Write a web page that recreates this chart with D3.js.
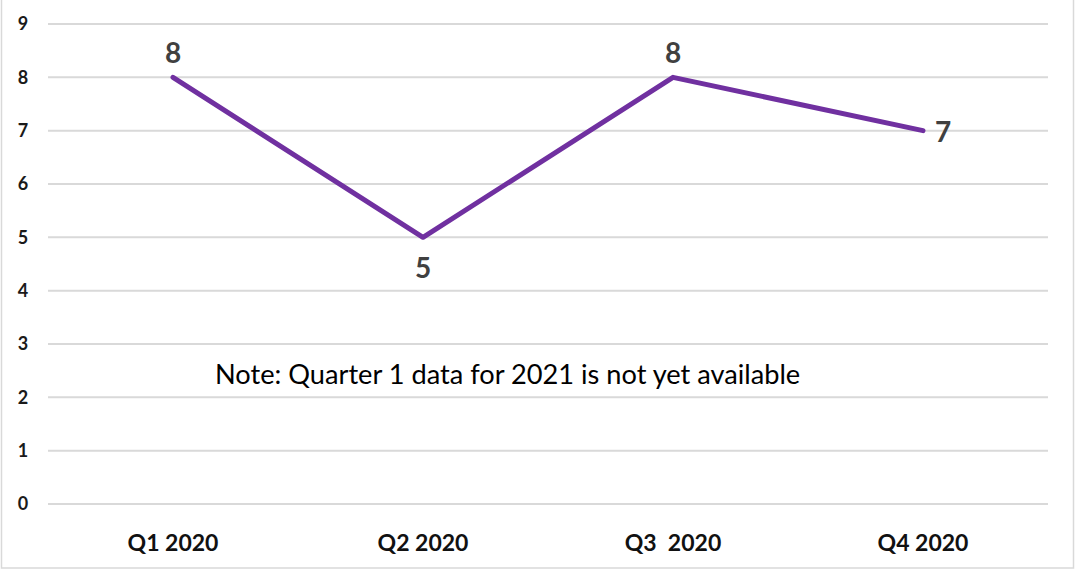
<!DOCTYPE html>
<html>
<head>
<meta charset="utf-8">
<script src="https://cdn.jsdelivr.net/npm/d3@7"></script>
<style>
  body { margin: 0; background: #fff; }
  svg { display: block; }
</style>
</head>
<body>
<svg width="1076" height="570"></svg>
<script>
const quarters = ["Q1 2020", "Q2 2020", "Q3  2020", "Q4 2020"];
const values = [8, 5, 8, 7];
const yTicks = [0, 1, 2, 3, 4, 5, 6, 7, 8, 9];
const labelPos = ["above", "below", "above", "right"];
const note = "Note: Quarter 1 data for 2021 is not yet available";

const svg = d3.select("svg");
const width = +svg.attr("width");
const height = +svg.attr("height");
const font = "Lato, 'Open Sans', sans-serif";

// chart frame
svg.append("rect")
  .attr("x", 1.5).attr("y", -2)
  .attr("width", width - 4).attr("height", height)
  .attr("fill", "none")
  .attr("stroke", "#d9d9d9")
  .attr("stroke-width", 1.5);

const x = d3.scaleBand().domain(quarters).range([48, 1048]);
const y = d3.scaleLinear().domain([0, 9]).range([504, 24]);

// gridlines
svg.append("g")
  .selectAll("line")
  .data(yTicks)
  .join("line")
  .attr("x1", 48).attr("x2", 1048)
  .attr("y1", d => y(d)).attr("y2", d => y(d))
  .attr("stroke", "#d9d9d9")
  .attr("stroke-width", 2);

// y tick labels
svg.append("g")
  .selectAll("text")
  .data(yTicks)
  .join("text")
  .attr("x", 23)
  .attr("y", d => y(d))
  .attr("dy", "0.36em")
  .attr("text-anchor", "middle")
  .style("font-family", font)
  .style("font-weight", "bold")
  .style("font-size", "18px")
  .attr("fill", "#1a1a1a")
  .text(d => d);

// x category labels
svg.append("g")
  .selectAll("text")
  .data(quarters)
  .join("text")
  .attr("x", d => x(d) + x.bandwidth() / 2)
  .attr("y", 551)
  .attr("text-anchor", "middle")
  .attr("xml:space", "preserve")
  .style("white-space", "pre")
  .style("font-family", font)
  .style("font-weight", "bold")
  .style("font-size", "23px")
  .attr("fill", "#111")
  .text(d => d);

const pts = quarters.map((q, i) => ({ q, v: values[i], pos: labelPos[i] }));
const cx = d => x(d.q) + x.bandwidth() / 2;

svg.append("path")
  .datum(pts)
  .attr("fill", "none")
  .attr("stroke", "#7030a0")
  .attr("stroke-width", 5)
  .attr("stroke-linecap", "round")
  .attr("stroke-linejoin", "round")
  .attr("d", d3.line().x(cx).y(d => y(d.v)));

// data labels
svg.append("g")
  .selectAll("text")
  .data(pts)
  .join("text")
  .attr("x", d => d.pos === "right" ? cx(d) + 12 : cx(d))
  .attr("y", d => d.pos === "above" ? y(d.v) - 14 : d.pos === "below" ? y(d.v) + 41 : y(d.v) + 11)
  .attr("text-anchor", d => d.pos === "right" ? "start" : "middle")
  .style("font-family", font)
  .style("font-weight", "bold")
  .style("font-size", "28px")
  .attr("fill", "#404040")
  .text(d => d.v);

// note
svg.append("text")
  .attr("x", 215)
  .attr("y", 384)
  .style("font-family", font)
  .style("font-size", "27.2px")
  .attr("fill", "#000")
  .text(note);
</script>
</body>
</html>
